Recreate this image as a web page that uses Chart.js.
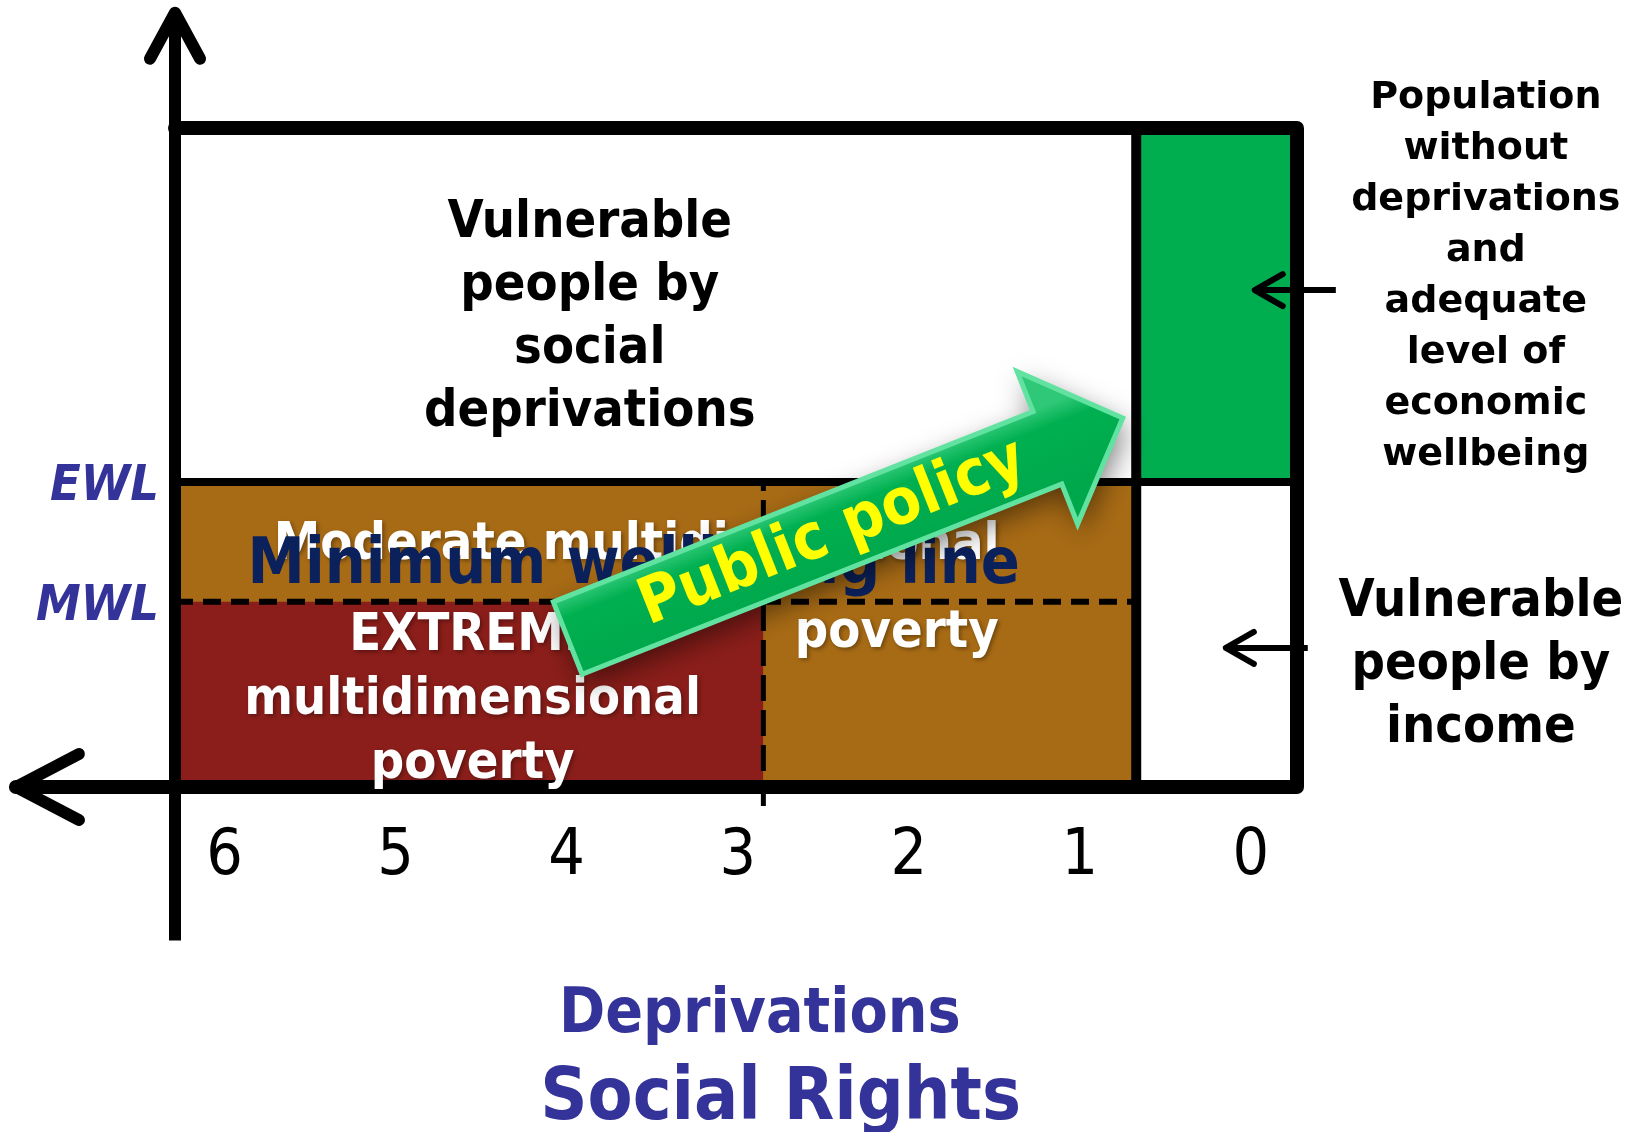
<!DOCTYPE html>
<html>
<head>
<meta charset="utf-8">
<script src="https://cdn.jsdelivr.net/npm/chart.js@4.4.0/dist/chart.umd.min.js"></script>
<style>
  html, body { margin: 0; padding: 0; background: #fff; }
  #wrap { width: 1643px; height: 1132px; position: relative; }
</style>
</head>
<body>
<div id="wrap"><canvas id="poverty-chart"></canvas></div>
<script>
// ejes
const deprivationTicks = [6, 5, 4, 3, 2, 1, 0];
const wellbeingLabels = ["MWL", "EWL"];
const wellbeingValues = [28.1, 46.3];

// limites del cuadro (privaciones en x, bienestar en y)
const deprivationRange = [6.29, -0.27];
const wellbeingRange = [0, 100];
const thresholdDeprivation = 2.85;
const noDeprivation = 0.67;
const axisArrowX = 7.22;
const axisArrowY = 117.5;
const axisBottomY = -23.3;
const thresholdTickY = -2.9;

// textos y sus anclas (privaciones, bienestar)
const socialLines = ["Vulnerable", "people by", "social", "deprivations"];
const socialAnchor = [3.865, 83.5];
const wellbeingLines = ["Population", "without", "deprivations", "and", "adequate", "level of", "economic", "wellbeing"];
const wellbeingAnchor = [-1.374, 103.0];
const incomeLines = ["Vulnerable", "people by", "income"];
const incomeAnchor = [-1.345, 25.9];
const moderateText = "Moderate multidimensional";
const moderateAnchor = [3.591, 34.6];
const moderatePovertyText = "poverty";
const moderatePovertyAnchor = [2.07, 21.2];
const extremeLines = ["EXTREME", "multidimensional", "poverty"];
const extremeAnchor = [4.55, 20.8];
const minimumText = "Minimum wellbeing line";
const minimumAnchor = [3.608, 31.0];
const policyText = "Public policy";
const policyAnchor = [2.444, 38.4];
const policyArrow = [[3.994, 22.6], [0.749, 56.0]];
const pointerArrows = [
  [[-0.497, 75.4], [-0.023, 75.4]],
  [[-0.333, 21.1], [0.146, 21.1]],
];
const axisTitles = ["Deprivations", "Social Rights"];
const axisTitleAnchors = [[2.871, -37.2], [2.749, -50.4]];

const FONT_C = '"DejaVu Sans Condensed", "DejaVu Sans", sans-serif';
const FONT_W = '"DejaVu Sans", sans-serif';

const canvas = document.getElementById("poverty-chart");

function pts(list) {
  return list.map((p) => ({ x: p[0], y: p[1] }));
}

const area = { showLine: true, pointRadius: 0, borderWidth: 0, borderColor: "rgba(0,0,0,0)" };
const linea = { showLine: true, pointRadius: 0, fill: false, borderColor: "#000", clip: false };

const datasets = [
  {
    ...area,
    label: "Extreme",
    data: pts([[deprivationRange[0], wellbeingValues[0]], [thresholdDeprivation, wellbeingValues[0]]]),
    fill: "origin",
    backgroundColor: "#8B1E1A",
    order: 5,
  },
  {
    ...area,
    label: "Moderate",
    data: pts([[deprivationRange[0], wellbeingValues[1]], [noDeprivation, wellbeingValues[1]]]),
    fill: "origin",
    backgroundColor: "#A86B15",
    order: 6,
  },
  {
    ...area,
    label: "Sin privaciones",
    data: pts([[noDeprivation, wellbeingRange[1]], [deprivationRange[1], wellbeingRange[1]]]),
    fill: { value: wellbeingValues[1] },
    backgroundColor: "#00AE50",
    order: 6,
  },
  {
    ...linea,
    label: "EWL",
    data: pts([[deprivationRange[0], wellbeingValues[1]], [deprivationRange[1], wellbeingValues[1]]]),
    borderWidth: 8,
    order: 2,
  },
  {
    ...linea,
    label: "MWL",
    data: pts([[deprivationRange[0], wellbeingValues[0]], [noDeprivation, wellbeingValues[0]]]),
    borderWidth: 6,
    borderDash: [18, 10],
    order: 2,
  },
  {
    ...linea,
    label: "Umbral",
    data: pts([[thresholdDeprivation, thresholdTickY], [thresholdDeprivation, wellbeingValues[1]]]),
    borderWidth: 5,
    borderDash: [26, 9],
    order: 2,
  },
  {
    ...linea,
    label: "Divisor",
    data: pts([[noDeprivation, wellbeingRange[0]], [noDeprivation, wellbeingRange[1]]]),
    borderWidth: 10,
    order: 1,
  },
  {
    ...linea,
    label: "Marco",
    data: pts([
      [deprivationRange[0], wellbeingRange[1]],
      [deprivationRange[1], wellbeingRange[1]],
      [deprivationRange[1], wellbeingRange[0]],
      [axisArrowX, wellbeingRange[0]],
    ]),
    borderWidth: 14,
    borderJoinStyle: "round",
    borderCapStyle: "round",
    order: 0,
  },
  {
    ...linea,
    label: "Eje vertical",
    data: pts([[deprivationRange[0], axisBottomY], [deprivationRange[0], axisArrowY]]),
    borderWidth: 12,
    order: 0,
  },
];

function chevron(ctx, x, y, wings) {
  ctx.beginPath();
  ctx.moveTo(x + wings[0][0], y + wings[0][1]);
  ctx.lineTo(x, y);
  ctx.lineTo(x + wings[1][0], y + wings[1][1]);
  ctx.stroke();
}

function drawLines(ctx, arr, x, y, gap) {
  arr.forEach((t, i) => ctx.fillText(t, x, y + i * gap));
}

const dibujoPlugin = {
  id: "dibujo",
  afterDatasetsDraw(chart) {
    const ctx = chart.ctx;
    const sx = chart.scales.x;
    const sy = chart.scales.y;
    const px = (v) => sx.getPixelForValue(v);
    const py = (v) => sy.getPixelForValue(v);
    ctx.save();

    // puntas de flecha de los ejes
    ctx.strokeStyle = "#000";
    ctx.lineCap = "round";
    ctx.lineJoin = "round";
    ctx.lineWidth = 12;
    chevron(ctx, px(deprivationRange[0]), py(axisArrowY), [[-25, 46], [25, 46]]);
    chevron(ctx, px(axisArrowX), py(wellbeingRange[0]), [[63, -33], [63, 33]]);

    // flechas que senalan las cajas de la derecha
    ctx.lineWidth = 6;
    ctx.lineCap = "butt";
    pointerArrows.forEach((a) => {
      const x0 = px(a[0][0]), y0 = py(a[0][1]), x1 = px(a[1][0]), y1 = py(a[1][1]);
      ctx.beginPath();
      ctx.moveTo(x0, y0);
      ctx.lineTo(x1 + 3, y1);
      ctx.stroke();
      ctx.lineCap = "round";
      chevron(ctx, x1, y1, [[28, -16], [28, 16]]);
      ctx.lineCap = "butt";
    });

    ctx.textAlign = "center";
    ctx.textBaseline = "alphabetic";

    // textos negros
    ctx.fillStyle = "#000";
    ctx.font = "bold 52px " + FONT_C;
    drawLines(ctx, socialLines, px(socialAnchor[0]), py(socialAnchor[1]), 63);
    drawLines(ctx, incomeLines, px(incomeAnchor[0]), py(incomeAnchor[1]), 63);
    ctx.font = "bold 38px " + FONT_W;
    drawLines(ctx, wellbeingLines, px(wellbeingAnchor[0]), py(wellbeingAnchor[1]), 51);

    // textos blancos
    ctx.save();
    ctx.shadowColor = "rgba(0,0,0,0.35)";
    ctx.shadowBlur = 4;
    ctx.shadowOffsetX = 2;
    ctx.shadowOffsetY = 2;
    ctx.fillStyle = "#fff";
    ctx.font = "bold 52px " + FONT_C;
    ctx.fillText(moderateText, px(moderateAnchor[0]), py(moderateAnchor[1]));
    ctx.fillText(moderatePovertyText, px(moderatePovertyAnchor[0]), py(moderatePovertyAnchor[1]));
    drawLines(ctx, extremeLines, px(extremeAnchor[0]), py(extremeAnchor[1]), 64);
    ctx.restore();

    ctx.fillStyle = "#0B215C";
    ctx.font = "bold 64px " + FONT_C;
    ctx.fillText(minimumText, px(minimumAnchor[0]), py(minimumAnchor[1]));

    // titulos del eje
    ctx.fillStyle = "#333399";
    ctx.font = "bold 62px " + FONT_C;
    ctx.fillText(axisTitles[0], px(axisTitleAnchors[0][0]), py(axisTitleAnchors[0][1]));
    ctx.font = "bold 73px " + FONT_C;
    ctx.fillText(axisTitles[1], px(axisTitleAnchors[1][0]), py(axisTitleAnchors[1][1]));

    // flecha de politica publica
    const x0 = px(policyArrow[0][0]), y0 = py(policyArrow[0][1]);
    const x1 = px(policyArrow[1][0]), y1 = py(policyArrow[1][1]);
    const ang = Math.atan2(y1 - y0, x1 - x0);
    const len = Math.hypot(x1 - x0, y1 - y0);
    ctx.save();
    ctx.translate(x0, y0);
    ctx.rotate(ang);
    ctx.beginPath();
    ctx.moveTo(0, -39);
    ctx.lineTo(len - 81, -39);
    ctx.lineTo(len - 81, -82);
    ctx.lineTo(len, 0);
    ctx.lineTo(len - 81, 82);
    ctx.lineTo(len - 81, 39);
    ctx.lineTo(0, 39);
    ctx.closePath();
    ctx.shadowColor = "rgba(0,0,0,0.5)";
    ctx.shadowBlur = 28;
    ctx.shadowOffsetX = 4;
    ctx.shadowOffsetY = 10;
    const g = ctx.createLinearGradient(0, -40, 0, 40);
    g.addColorStop(0, "#2FC878");
    g.addColorStop(0.25, "#00B050");
    g.addColorStop(1, "#00A84C");
    ctx.fillStyle = g;
    ctx.fill();
    ctx.shadowColor = "rgba(0,0,0,0)";
    ctx.strokeStyle = "#62E2A0";
    ctx.lineWidth = 5;
    ctx.lineJoin = "miter";
    ctx.stroke();
    ctx.restore();

    ctx.save();
    ctx.translate(px(policyAnchor[0]), py(policyAnchor[1]));
    ctx.rotate(ang);
    ctx.fillStyle = "#FFFF00";
    ctx.font = "bold 64px " + FONT_C;
    ctx.textBaseline = "middle";
    ctx.fillText(policyText, 0, 0);
    ctx.restore();

    ctx.restore();
  },
};

new Chart(canvas, {
  type: "line",
  data: { datasets: datasets },
  options: {
    responsive: true,
    maintainAspectRatio: false,
    animation: false,
    layout: { padding: { top: 128, right: 346, bottom: 0, left: 0 } },
    plugins: { legend: { display: false }, tooltip: { enabled: false } },
    scales: {
      x: {
        type: "linear",
        reverse: true,
        min: deprivationRange[1],
        max: deprivationRange[0],
        grid: { display: false, drawTicks: false },
        border: { display: false },
        afterBuildTicks: (axis) => {
          axis.ticks = deprivationTicks.map((v) => ({ value: v }));
        },
        afterFit: (axis) => {
          axis.height = 345;
        },
        ticks: {
          autoSkip: false,
          maxRotation: 0,
          padding: 32,
          color: "#000",
          font: { family: FONT_C, size: 64 },
          callback: (v) => String(v),
        },
      },
      y: {
        type: "linear",
        min: wellbeingRange[0],
        max: wellbeingRange[1],
        grid: { display: false, drawTicks: false },
        border: { display: false },
        afterBuildTicks: (axis) => {
          axis.ticks = wellbeingValues.map((v) => ({ value: v }));
        },
        afterFit: (axis) => {
          axis.width = 175;
        },
        ticks: {
          padding: 16,
          labelOffset: 5,
          color: "#333399",
          font: { family: FONT_C, size: 50, weight: "bold", style: "italic" },
          callback: (v) => wellbeingLabels[wellbeingValues.indexOf(v)],
        },
      },
    },
  },
  plugins: [dibujoPlugin],
});
</script>
</body>
</html>
